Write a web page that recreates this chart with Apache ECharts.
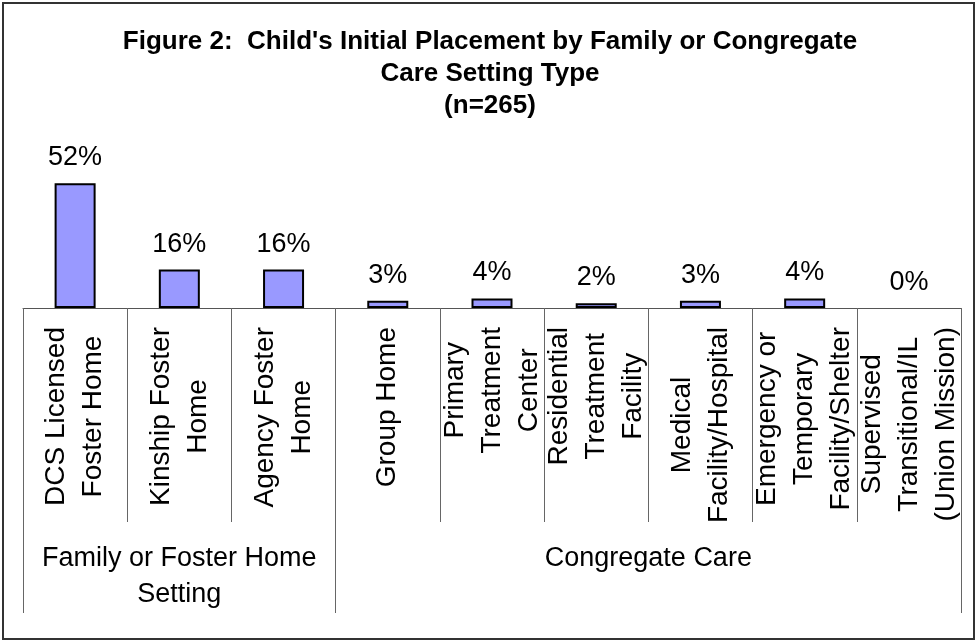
<!DOCTYPE html>
<html>
<head>
<meta charset="utf-8">
<title>Child's Initial Placement</title>
<script src="https://cdn.jsdelivr.net/npm/echarts@6/dist/echarts.min.js"></script>
<style>
  html, body { margin: 0; padding: 0; background: #fff; }
  #chart { width: 977px; height: 641px; }
</style>
</head>
<body>
<div id="chart"></div>
<script>
// Placement types (line breaks as printed under each bar)
const categories = [
  'DCS Licensed\nFoster Home',
  'Kinship Foster\nHome',
  'Agency Foster\nHome',
  'Group Home',
  'Primary\nTreatment\nCenter',
  'Residential\nTreatment\nFacility',
  'Medical\nFacility/Hospital',
  'Emergency or\nTemporary\nFacility/Shelter',
  'Supervised\nTransitional/IL\n(Union Mission)'
];
// Share of children (%) in each placement type
const percents = [52, 16, 16, 3, 4, 2, 3, 4, 0];
// Setting groups and how many placement types each covers
const groupNames = ['Family or Foster Home\nSetting', 'Congregate Care'];
const groupSizes = [3, 6];

const titleText = "Figure 2:  Child's Initial Placement by Family or Congregate\nCare Setting Type\n(n=265)";

// Group boundaries and centres on a 0..N scale
const groupEdges = [0];
groupSizes.forEach(function (n) { groupEdges.push(groupEdges[groupEdges.length - 1] + n); });
const groupCentres = groupSizes.map(function (n, i) { return groupEdges[i] + n / 2; });

// Empty categories get no outline, so nothing is drawn for them
const barData = percents.map(function (v) {
  return v === 0 ? { value: v, itemStyle: { borderWidth: 0 } } : v;
});

const FONT = 'Liberation Sans, Arial, sans-serif';
const chart = echarts.init(document.getElementById('chart'), null, { renderer: 'canvas' });

chart.setOption({
  backgroundColor: '#ffffff',
  animation: false,
  title: {
    text: titleText,
    left: 485,
    top: 21,
    textAlign: 'center',
    textStyle: {
      fontFamily: FONT,
      fontSize: 26,
      fontWeight: 'bold',
      color: '#000',
      lineHeight: 32
    }
  },
  graphic: [{
    type: 'rect',
    shape: { x: 3, y: 3, width: 971, height: 636 },
    style: { fill: 'none', stroke: '#333', lineWidth: 2 },
    silent: true
  }],
  grid: { left: 23, right: 16, top: 164, bottom: 333, containLabel: false },
  xAxis: [{
    type: 'category',
    data: categories,
    position: 'bottom',
    boundaryGap: true,
    axisLine: { show: true, lineStyle: { color: '#555', width: 1 } },
    axisTick: { show: true, interval: 0, length: 214, lineStyle: { color: '#666', width: 1 } },
    axisLabel: {
      interval: 0,
      rotate: 90,
      margin: 19,
      hideOverlap: false,
      fontFamily: FONT,
      fontSize: 28,
      color: '#000',
      lineHeight: 37,
      formatter: function (v) {
        return v.split('\n').map(function (s) { return '{c|' + s + '}'; }).join('\n');
      },
      rich: {
        c: { align: 'center', fontFamily: FONT, fontSize: 28, color: '#000', lineHeight: 37 }
      }
    }
  }, {
    type: 'value',
    min: 0,
    max: categories.length,
    position: 'bottom',
    axisLine: { show: false },
    splitLine: { show: false },
    axisTick: {
      show: true,
      customValues: groupEdges,
      length: 305,
      lineStyle: { color: '#666', width: 1 }
    },
    axisLabel: {
      customValues: groupCentres,
      margin: 233,
      fontFamily: FONT,
      fontSize: 27,
      color: '#000',
      lineHeight: 36,
      align: 'center',
      formatter: function (v) {
        const i = groupCentres.indexOf(v);
        return i >= 0 ? groupNames[i] : '';
      }
    }
  }],
  yAxis: {
    type: 'value',
    min: 0,
    max: 60,
    show: false,
    splitLine: { show: false }
  },
  series: [{
    type: 'bar',
    xAxisIndex: 0,
    data: barData,
    barWidth: 41,
    itemStyle: { color: '#9999ff', borderColor: '#000', borderWidth: 2 },
    label: {
      show: true,
      position: 'top',
      distance: 12,
      formatter: '{c}%',
      fontFamily: FONT,
      fontSize: 27,
      color: '#000'
    }
  }]
});
</script>
</body>
</html>
